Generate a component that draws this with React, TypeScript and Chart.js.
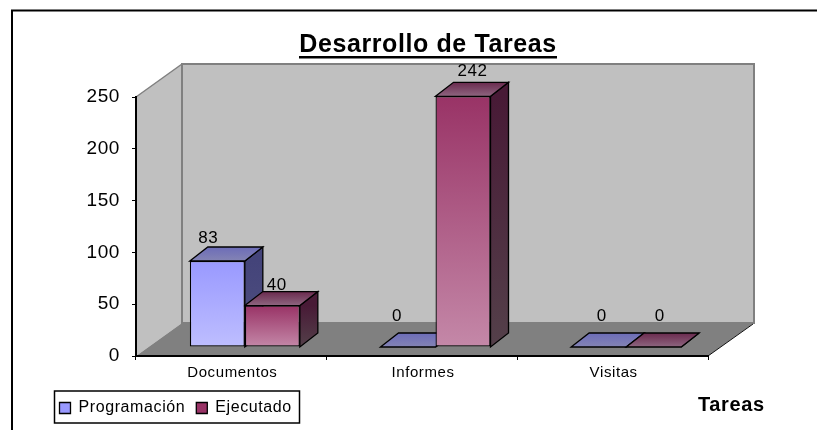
import React, { useEffect, useRef } from "react";
import { Chart, registerables } from "chart.js";

Chart.register(...registerables);

const titleText = "Desarrollo de Tareas";
const xAxisName = "Tareas";
const categories = ["Documentos", "Informes", "Visitas"];
const programacion = [83, 0, 0];
const ejecutado = [40, 242, 0];
const yTicks = [0, 50, 100, 150, 200, 250];

const SANS = '"Liberation Sans", Arial, sans-serif';
// 3D projection of the Excel-style chart
const WALL_DX = 46;
const WALL_DY = -33;
const BAR_SHIFT_X = 13.5;
const BAR_SHIFT_Y = -9;
const DEPTH_X = 18;
const DEPTH_Y = -14;

const faces: any = [
  {
    key: "Programación",
    legend: "#9999FF",
    front: ["#9999FF", "#BEBEFF"],
    side: ["#44447A", "#505080"],
    top: ["#6C6CB8", "#8484B4"],
  },
  {
    key: "Ejecutado",
    legend: "#993366",
    front: ["#993366", "#C488A8"],
    side: ["#481A36", "#54404A"],
    top: ["#6A2A4E", "#8E6680"],
  },
];

// per dataset, per category: label centre offset from the bar's centre, and baseline gap above bar's back top
const labelNudges = [
  [[-9, 4], [-11, 12], [3, 12]],
  [[4.5, 2], [9.5, 6], [6, 12]],
];

function poly(ctx: CanvasRenderingContext2D, pts: number[][], fill: any, stroke?: string, lw = 1) {
  ctx.beginPath();
  pts.forEach((p, i) => (i ? ctx.lineTo(p[0], p[1]) : ctx.moveTo(p[0], p[1])));
  ctx.closePath();
  if (fill) {
    ctx.fillStyle = fill;
    ctx.fill();
  }
  if (stroke) {
    ctx.strokeStyle = stroke;
    ctx.lineWidth = lw;
    ctx.lineJoin = "miter";
    ctx.stroke();
  }
}

const threeD: any = {
  id: "threeD",
  beforeUpdate(chart: any) {
    // the reference's bitmap text runs wide
    chart.ctx.letterSpacing = "0.6px";
  },
  afterLayout(chart: any) {
    const lg = chart.legend;
    lg.left = 48.5;
    lg.top = 389;
    lg.right = 310;
    lg.bottom = 430;
    const t = chart.titleBlock;
    t.left = 298;
    t.right = 558;
    t.top = 30.5;
    t.bottom = 60.5;
  },
  beforeDraw(chart: any) {
    const { ctx, chartArea: a } = chart;
    ctx.save();
    ctx.fillStyle = "#fff";
    ctx.fillRect(0, 0, chart.width, chart.height);
    // outer frame
    ctx.strokeStyle = "#000";
    ctx.lineWidth = 2;
    ctx.beginPath();
    ctx.moveTo(12, 430);
    ctx.lineTo(12, 10.5);
    ctx.lineTo(817, 10.5);
    ctx.stroke();

    const L = a.left, R = a.right, T = a.top, B = a.bottom;
    const bL = L + WALL_DX, bR = R + WALL_DX, bT = T + WALL_DY, bB = B + WALL_DY;
    // side wall, back wall, floor
    poly(ctx, [[L, T], [bL, bT], [bL, bB], [L, B]], "#C0C0C0");
    ctx.strokeStyle = "#808080";
    ctx.lineWidth = 1.5;
    ctx.beginPath();
    ctx.moveTo(L, T);
    ctx.lineTo(bL, bT);
    ctx.stroke();
    poly(ctx, [[bL, bT], [bR, bT], [bR, bB], [bL, bB]], "#C0C0C0", "#808080", 2);
    poly(ctx, [[L, B], [R, B], [bR, bB], [bL, bB]], "#808080");
    ctx.strokeStyle = "#111";
    ctx.lineWidth = 1;
    ctx.beginPath();
    ctx.moveTo(R, B);
    ctx.lineTo(bR - 1, bB + 1);
    ctx.stroke();

    // legend frame
    ctx.strokeStyle = "#000";
    ctx.lineWidth = 1.5;
    ctx.fillStyle = "#fff";
    ctx.fillRect(54.5, 391, 245, 32);
    ctx.strokeRect(54.5, 391, 245, 32);
    ctx.restore();
  },
  beforeDatasetsDraw(chart: any) {
    // side and top faces go under every front face, first series first
    const { ctx } = chart;
    const base = chart.scales.y.getPixelForValue(0);
    ctx.save();
    ctx.translate(BAR_SHIFT_X, BAR_SHIFT_Y);
    chart.data.datasets.forEach((_: any, di: number) => {
      const f = faces[di];
      chart.getDatasetMeta(di).data.forEach((bar: any) => {
        const l = bar.x - bar.width / 2, r = bar.x + bar.width / 2, y = bar.y;
        const g = ctx.createLinearGradient(0, y, 0, base + 0.01);
        g.addColorStop(0, f.side[0]);
        g.addColorStop(1, f.side[1]);
        poly(ctx, [[r, y], [r + DEPTH_X, y + DEPTH_Y], [r + DEPTH_X, base + DEPTH_Y], [r, base]], g, "#000", 1.3);
        const gt = ctx.createLinearGradient(0, y + DEPTH_Y, 0, y);
        gt.addColorStop(0, f.top[0]);
        gt.addColorStop(1, f.top[1]);
        poly(ctx, [[l, y], [l + DEPTH_X, y + DEPTH_Y], [r + DEPTH_X, y + DEPTH_Y], [r, y]], gt, "#000", 1.3);
      });
    });
    ctx.restore();
  },
  beforeDatasetDraw(chart: any) {
    chart.ctx.save();
    chart.ctx.translate(BAR_SHIFT_X, BAR_SHIFT_Y);
  },
  afterDatasetDraw(chart: any) {
    chart.ctx.restore();
  },
  afterDatasetsDraw(chart: any) {
    const { ctx } = chart;
    ctx.save();
    ctx.fillStyle = "#000";
    ctx.font = `17px ${SANS}`;
    ctx.textAlign = "center";
    ctx.textBaseline = "alphabetic";
    chart.data.datasets.forEach((ds: any, di: number) => {
      chart.getDatasetMeta(di).data.forEach((bar: any, i: number) => {
        const [dx, dy] = labelNudges[di][i];
        ctx.fillText(String(ds.data[i]), bar.x + BAR_SHIFT_X + dx, bar.y + BAR_SHIFT_Y + DEPTH_Y - dy);
      });
    });
    // axis name
    ctx.font = `bold 20px ${SANS}`;
    ctx.textAlign = "left";
    ctx.fillText(xAxisName, 698, 411);
    // title underline
    const t = chart.titleBlock;
    ctx.fillRect(t.left + 1, 56, t.right - t.left - 2, 2.5);
    ctx.restore();
  },
};

export default function App() {
  const ref = useRef<HTMLCanvasElement>(null);
  useEffect(() => {
    const frontFill = (di: number) => (c: any) => {
      const { chart, dataIndex } = c;
      const v = chart.data.datasets[di].data[dataIndex ?? 0];
      const y = chart.scales.y;
      const y0 = y ? y.getPixelForValue(v) : NaN;
      const y1 = y ? y.getPixelForValue(0) : NaN;
      if (!Number.isFinite(y0) || !Number.isFinite(y1)) return faces[di].legend;
      const g = chart.ctx.createLinearGradient(0, y0, 0, y1 + 0.01);
      g.addColorStop(0, faces[di].front[0]);
      g.addColorStop(1, faces[di].front[1]);
      return g;
    };
    const chart = new Chart(ref.current!, {
      type: "bar",
      data: {
        labels: categories,
        datasets: [
          {
            label: faces[0].key,
            data: programacion,
            clip: false,
            backgroundColor: frontFill(0),
            borderColor: "#000",
            borderWidth: 1.3,
            borderSkipped: false,
            barPercentage: 1,
            categoryPercentage: 0.577,
          },
          {
            label: faces[1].key,
            data: ejecutado,
            clip: false,
            backgroundColor: frontFill(1),
            borderColor: "#000",
            borderWidth: 1.3,
            borderSkipped: false,
            barPercentage: 1,
            categoryPercentage: 0.577,
          },
        ],
      },
      options: {
        responsive: false,
        animation: false,
        layout: { padding: { left: 0, right: 109, top: 67, bottom: 0 } },
        plugins: {
          tooltip: { enabled: false },
          title: {
            display: true,
            text: titleText,
            color: "#000",
            padding: 0,
            font: { family: SANS, size: 25, weight: "bold", lineHeight: 1.2 },
          },
          legend: {
            position: "bottom",
            align: "start",
            labels: {
              boxWidth: 11,
              boxHeight: 11,
              padding: 11,
              color: "#000",
              font: { family: SANS, size: 16 },
              generateLabels: (ch: any) =>
                ch.data.datasets.map((d: any, i: number) => ({
                  text: d.label,
                  fillStyle: faces[i].legend,
                  strokeStyle: "#000",
                  lineWidth: 1.3,
                  datasetIndex: i,
                  hidden: false,
                })),
            },
          },
        },
        scales: {
          x: {
            offset: true,
            grid: { drawOnChartArea: false, drawTicks: true, tickLength: 4, color: "#000" },
            border: { display: true, color: "#000", width: 2 },
            ticks: { color: "#000", padding: 4, labelOffset: 1, maxRotation: 0, font: { family: SANS, size: 15 } },
            afterFit: (s: any) => {
              s.height = 37;
            },
          },
          y: {
            min: 0,
            max: 250,
            afterBuildTicks: (s: any) => {
              s.ticks = yTicks.map((value) => ({ value }));
            },
            grid: { drawOnChartArea: false, drawTicks: true, tickLength: 4, color: "#000" },
            border: { display: true, color: "#000", width: 2 },
            ticks: { color: "#000", padding: 12, font: { family: SANS, size: 19 } },
            afterFit: (s: any) => {
              s.width = 136;
            },
          },
        },
      },
      plugins: [threeD],
    } as any);
    return () => chart.destroy();
  }, []);
  return (
    <div style={{ position: "absolute", left: 0, top: 0, width: 817, height: 430, background: "#fff" }}>
      <canvas ref={ref} width={817} height={430} style={{ display: "block" }} />
    </div>
  );
}
